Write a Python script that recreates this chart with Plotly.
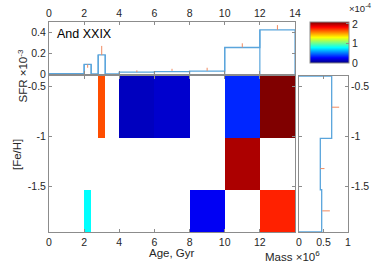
import plotly.graph_objects as go

# ---------------- data ----------------
age_edges = [0, 2, 2.4, 2.8, 3.2, 4, 6, 8, 10, 12, 14]
feh_edges = [-1.95, -1.53, -1.02, -0.4]

# SFR per age bin (x 1e-3)
sfr = [0.003, 0.093, 0.0, 0.183, 0.0, 0.018, 0.022, 0.028, 0.255, 0.425]
sfr_err_x = [2.2, 3.0, 5, 7, 9, 11, 13]
sfr_err_lo = [0.06, 0.183, 0.018, 0.03, 0.03, 0.255, 0.425]
sfr_err_hi = [0.093, 0.27, 0.035, 0.05, 0.06, 0.295, 0.47]

# age-metallicity map (x 1e-4), rows bottom -> top
amr = [
    [None, 0.79, None, None, None, None, None, 0.24, None, 1.77],
    [None, None, None, None, None, None, None, None, 2.01, None],
    [None, None, None, 1.68, None, 0.13, 0.16, None, 0.34, 2.1],
]
amr_max = 2.1

# mass per metallicity bin (x 1e6), bottom -> top
mass = [0.463, 0.435, 0.667]
mass_err_y = [-1.74, -1.32, -0.71]
mass_err_lo = [0.475, 0.435, 0.67]
mass_err_hi = [0.63, 0.52, 0.82]

age_ticks = [0, 2, 4, 6, 8, 10, 12, 14]
feh_ticks = [-1.5, -1, -0.5]
feh_ticktext = ["-1.5", "-1", "-0.5"]

# ---------------- style ----------------
W, H = 384, 273
FONT = "Liberation Sans, Arial, Helvetica, sans-serif"
AX = "#8c8c8c"
TXT = "#262626"
LINE = "#5aa5dc"
ERR = "#f08a60"

jet = [
    [0.0, "rgb(0,0,128)"],
    [0.125, "rgb(0,0,255)"],
    [0.375, "rgb(0,255,255)"],
    [0.625, "rgb(255,255,0)"],
    [0.875, "rgb(255,0,0)"],
    [1.0, "rgb(128,0,0)"],
]


def px(x):
    return x / W


def py(y):
    return 1 - y / H


fig = go.Figure()

# top panel: SFR stairs
fig.add_trace(go.Scatter(
    x=age_edges, y=sfr + [sfr[-1]], mode="lines", line=dict(color=LINE, width=1.3, shape="hv"),
    xaxis="x", yaxis="y", showlegend=False, hoverinfo="skip"))
# vertical drops at bin edges
vx, vy = [], []
for i, e in enumerate(age_edges):
    left = sfr[i - 1] if i > 0 else 0
    right = sfr[i] if i < len(sfr) else 0
    vx += [e, e, None]
    vy += [0, max(left, right), None]
fig.add_trace(go.Scatter(x=vx, y=vy, mode="lines", line=dict(color=LINE, width=1.2),
                         xaxis="x", yaxis="y", showlegend=False, hoverinfo="skip"))
ex, ey = [], []
for x, lo, hi in zip(sfr_err_x, sfr_err_lo, sfr_err_hi):
    ex += [x, x, None]
    ey += [lo, hi, None]
fig.add_trace(go.Scatter(x=ex, y=ey, mode="lines", line=dict(color=ERR, width=1),
                         xaxis="x", yaxis="y", showlegend=False, hoverinfo="skip"))

# main panel heatmap
fig.add_trace(go.Heatmap(
    x=age_edges, y=feh_edges, z=amr, colorscale=jet, zmin=0, zmax=amr_max,
    xaxis="x2", yaxis="y2", hoverongaps=False,
    colorbar=dict(x=px(310), xanchor="left", y=py(22), yanchor="top",
                  len=41 / H, lenmode="fraction", thickness=39, thicknessmode="pixels",
                  xpad=0, ypad=0, outlinewidth=1, outlinecolor=AX,
                  tickvals=[0, 1, 2], ticktext=["0", "1", "2"], ticks="inside",
                  ticklen=3, tickcolor=AX, tickfont=dict(size=10.5, color=TXT, family=FONT))))

# mass panel stairs
mx, my = [0], [feh_edges[-1]]
for i in reversed(range(len(mass))):
    mx += [mass[i], mass[i]]
    my += [feh_edges[i + 1], feh_edges[i]]
mx += [0]
my += [feh_edges[0]]
fig.add_trace(go.Scatter(x=mx, y=my, mode="lines", line=dict(color=LINE, width=1.3),
                         xaxis="x3", yaxis="y3", showlegend=False, hoverinfo="skip"))
mex, mey = [], []
for y, lo, hi in zip(mass_err_y, mass_err_lo, mass_err_hi):
    mex += [lo, hi, None]
    mey += [y, y, None]
fig.add_trace(go.Scatter(x=mex, y=mey, mode="lines", line=dict(color=ERR, width=1),
                         xaxis="x3", yaxis="y3", showlegend=False, hoverinfo="skip"))

axcommon = dict(showline=True, linecolor=AX, linewidth=1, mirror="ticks", ticks="inside",
                ticklen=3, tickcolor=AX, showgrid=False, zeroline=False, automargin=False,
                tickfont=dict(size=10.5, color=TXT, family=FONT))

dom_x_main = [px(49), px(295)]
dom_x_mass = [px(299), px(348)]
dom_y_top = [py(74), py(22)]
dom_y_main = [py(232), py(76)]

fig.update_layout(
    width=W, height=H, margin=dict(l=0, r=0, t=0, b=0, autoexpand=False),
    paper_bgcolor="white", plot_bgcolor="white",
    font=dict(family=FONT, color=TXT, size=10.5),
    xaxis=dict(domain=dom_x_main, anchor="y", side="top", range=[0, 14],
               tickvals=age_ticks, ticktext=[str(t) for t in age_ticks], **axcommon),
    yaxis=dict(domain=dom_y_top, anchor="x", range=[0, 0.5],
               tickvals=[0, 0.2, 0.4], ticktext=["0", "0.2", "0.4"], **axcommon),
    xaxis2=dict(domain=dom_x_main, anchor="y2", range=[0, 14],
                tickvals=age_ticks, ticktext=[str(t) for t in age_ticks[:-1]] + [""], **axcommon),
    yaxis2=dict(domain=dom_y_main, anchor="x2", range=[feh_edges[0], feh_edges[-1]],
                tickvals=feh_ticks, ticktext=feh_ticktext, **axcommon),
    xaxis3=dict(domain=dom_x_mass, anchor="y3", range=[0, 1],
                tickvals=[0, 0.5, 1], ticktext=["0", "0.5", "1"], **axcommon),
    yaxis3=dict(domain=dom_y_main, anchor="x3", side="right", range=[feh_edges[0], feh_edges[-1]],
                tickvals=feh_ticks, ticktext=feh_ticktext, **axcommon),
    annotations=[
        dict(text="And XXIX", x=px(55), y=py(34), xref="paper", yref="paper",
             xanchor="left", yanchor="middle", showarrow=False, font=dict(size=12.5, color="black")),
        dict(text="SFR ×10<sup>-3</sup>", x=px(13), y=py(48), xref="paper", yref="paper",
             textangle=-90, showarrow=False, font=dict(size=11.5)),
        dict(text="[Fe/H]", x=px(9), y=py(155), xref="paper", yref="paper",
             textangle=-90, showarrow=False, font=dict(size=11.5)),
        dict(text="Age, Gyr", x=px(172), y=py(261), xref="paper", yref="paper",
             showarrow=False, font=dict(size=11.5)),
        dict(text="Mass ×10<sup>6</sup>", x=px(322), y=py(265), xref="paper", yref="paper",
             showarrow=False, font=dict(size=11.5)),
        dict(text="×10<sup>-4</sup>", x=px(348), y=py(1), xref="paper", yref="paper",
             xanchor="left", yanchor="top", showarrow=False, font=dict(size=9.5),
             borderpad=0),
    ],
)

fig.write_html("out.html", config={"displayModeBar": False},
               post_script="document.body.style.margin='0';document.body.style.padding='0';")
